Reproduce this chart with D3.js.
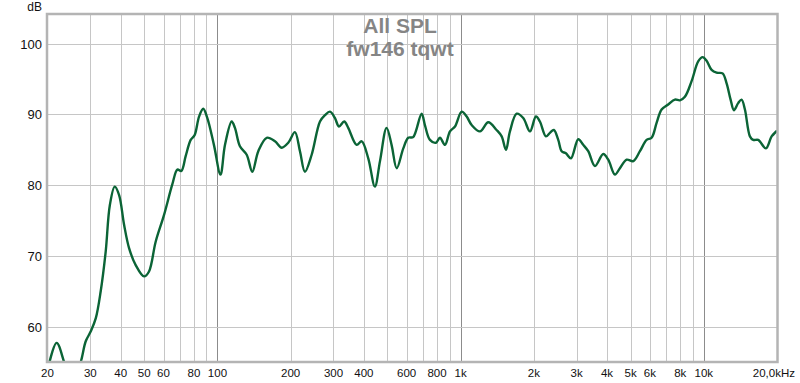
<!DOCTYPE html>
<html>
<head>
<meta charset="utf-8">
<script src="https://cdn.jsdelivr.net/npm/d3@7"></script>
<style>
  body { margin: 0; background: #fff; }
  svg { display: block; font-family: "Liberation Sans", Arial, sans-serif; }
</style>
</head>
<body>
<div id="svg-container"></div>
<script>
// data
const freq = [20, 21.8, 23.4, 25, 27.4, 28.7, 30.1, 31.6, 33.1, 34.7, 36.1, 37.8, 39.4, 41.3, 43.3, 46.1, 49.9, 52.3, 55.7, 60.3,
  65.2, 68.4, 71.0, 74.0, 77.6, 80.6, 84.0, 87.4, 90.8, 96.7, 102.9, 107.4, 114.4, 118, 123.7, 131.9, 139.1, 147.2, 159.4, 172.4,
  183.7, 195.5, 208.2, 218.4, 229, 244, 264, 276.8, 290.2, 304, 316, 332, 345, 373.7, 391.8, 417, 444, 466, 496, 520,
  546, 581, 609, 638, 691, 713, 748, 792, 822, 862, 904, 948, 1010, 1059, 1110, 1201, 1299, 1406, 1475, 1536,
  1595, 1700, 1809, 1928, 2040, 2118, 2242, 2329, 2418, 2520, 2603, 2710, 2842, 3046, 3193, 3348, 3568, 3860, 4046, 4312,
  4518, 4816, 5126, 5462, 5819, 6100, 6396, 6706, 7138, 7606, 7974, 8362, 8908, 9484, 9888, 10268, 10766, 11288, 11948, 12410,
  12890, 13298, 13850, 14302, 14760, 15476, 15964, 16740, 18010, 19006, 20000];
const spl = [53.8, 57.7, 55.0, 51.5, 55.0, 57.9, 59.3, 61.2, 65.0, 70.6, 77.2, 79.8, 78.6, 74.4, 71.1, 68.7, 67.1, 67.8, 72.0, 75.8,
  80.1, 82.2, 82.0, 84.1, 86.4, 87.1, 89.7, 90.8, 89.5, 85.7, 81.5, 85.7, 89.0, 88.1, 85.5, 84.3, 81.9, 84.8, 86.7, 86.2,
  85.3, 86.0, 87.5, 84.8, 81.9, 84.3, 89.0, 89.9, 90.4, 89.5, 88.3, 89.0, 88.1, 85.7, 86.2, 83.8, 79.8, 83.4, 88.1, 85.7,
  82.4, 85.2, 86.7, 86.8, 90.1, 88.5, 86.4, 86.0, 86.7, 85.7, 87.6, 88.3, 90.4, 89.7, 88.5, 87.6, 88.9, 87.8, 86.9, 85.0,
  87.6, 90.1, 89.5, 87.6, 89.7, 89.0, 86.9, 87.4, 87.8, 86.4, 84.8, 84.5, 83.8, 86.5, 85.7, 84.8, 82.7, 84.4, 83.6, 81.5,
  82.4, 83.6, 83.4, 84.8, 86.4, 86.7, 88.8, 90.7, 91.4, 92.1, 92.0, 92.5, 94.7, 97.5, 98.1, 97.6, 96.3, 95.9, 95.8, 94.4,
  92.1, 90.6, 91.6, 92.1, 90.7, 86.9, 86.4, 86.4, 85.2, 86.9, 87.7];

const xTickValues = [20, 30, 40, 50, 60, 80, 100, 200, 300, 400, 600, 800, 1000, 2000, 3000, 4000, 5000, 6000, 8000, 10000, 20000];
const xTickLabels = ["20", "30", "40", "50", "60", "80", "100", "200", "300", "400", "600", "800", "1k", "2k", "3k", "4k", "5k", "6k", "8k", "10k", "20,0kHz"];
const yTicks = [60, 70, 80, 90, 100];
const titleLines = ["All SPL", "fw146 tqwt"];

////////////////////////////  Init  ///////////////////////////////
const width = 800;
const height = 383;
const margin = { top: 14, right: 23, bottom: 21, left: 47.5 };

const svg = d3.select("#svg-container").append("svg")
  .attr("width", width)
  .attr("height", height);

const xScale = d3.scaleLog().domain([20, 20000]).range([margin.left, width - margin.right]);
const yScale = d3.scaleLinear().domain([55, 104.2]).range([height - margin.bottom, margin.top]);

// grid lines: 1-9 per decade
const gridFreqs = [];
[10, 100, 1000].forEach((dec) => {
  for (let k = 2; k <= 10; k++) gridFreqs.push(dec * k);
});
gridFreqs.push(20000);

svg.append("g")
  .selectAll("line")
  .data(gridFreqs.filter((f) => f > 20 && f < 20000))
  .join("line")
  .attr("x1", (d) => Math.round(xScale(d)) + 0.5)
  .attr("x2", (d) => Math.round(xScale(d)) + 0.5)
  .attr("y1", margin.top)
  .attr("y2", height - margin.bottom)
  .attr("stroke", (d) => ([100, 1000, 10000].includes(d) ? "#8c8c8c" : "#c6c6c6"))
  .attr("stroke-width", 1);

svg.append("g")
  .selectAll("line")
  .data(yTicks)
  .join("line")
  .attr("x1", margin.left)
  .attr("x2", width - margin.right)
  .attr("y1", (d) => Math.round(yScale(d)) + 0.5)
  .attr("y2", (d) => Math.round(yScale(d)) + 0.5)
  .attr("stroke", "#c6c6c6");

// title
svg.append("g")
  .selectAll("text")
  .data(titleLines)
  .join("text")
  .attr("x", 400)
  .attr("y", (d, i) => 33 + i * 23)
  .attr("text-anchor", "middle")
  .attr("font-size", "21px")
  .attr("font-weight", "bold")
  .attr("fill", "#858585")
  .text((d) => d);

// curve
svg.append("clipPath").attr("id", "plot-clip")
  .append("rect")
  .attr("x", margin.left)
  .attr("y", margin.top)
  .attr("width", width - margin.right - margin.left)
  .attr("height", height - margin.bottom - margin.top);

const line = d3.line()
  .x((d, i) => xScale(freq[i]))
  .y((d) => yScale(d))
  .curve(d3.curveCatmullRom.alpha(0.5));

svg.append("path")
  .datum(spl)
  .attr("clip-path", "url(#plot-clip)")
  .attr("fill", "none")
  .attr("stroke", "#0b6436")
  .attr("stroke-width", 2.4)
  .attr("stroke-linejoin", "round")
  .attr("d", line);

// frame
svg.append("rect")
  .attr("x", margin.left - 0.5)
  .attr("y", margin.top)
  .attr("width", width - margin.right - margin.left + 1)
  .attr("height", height - margin.bottom - margin.top)
  .attr("fill", "none")
  .attr("stroke", "#b4b4b4")
  .attr("stroke-width", 2.5);

// x labels
svg.append("g")
  .selectAll("text")
  .data(xTickValues)
  .join("text")
  .attr("x", (d, i) => (i === xTickValues.length - 1 ? 795 : xScale(d)))
  .attr("y", 377)
  .attr("text-anchor", (d, i) => (i === xTickValues.length - 1 ? "end" : "middle"))
  .attr("font-size", "11.5px")
  .attr("fill", "#111")
  .text((d, i) => xTickLabels[i]);

// y labels
svg.append("g")
  .selectAll("text")
  .data(yTicks)
  .join("text")
  .attr("x", 42)
  .attr("y", (d) => yScale(d) + 5)
  .attr("text-anchor", "end")
  .attr("font-size", "13px")
  .attr("fill", "#111")
  .text((d) => d);

svg.append("text")
  .attr("x", 42)
  .attr("y", 11)
  .attr("text-anchor", "end")
  .attr("font-size", "12px")
  .attr("fill", "#111")
  .text("dB");
</script>
</body>
</html>
